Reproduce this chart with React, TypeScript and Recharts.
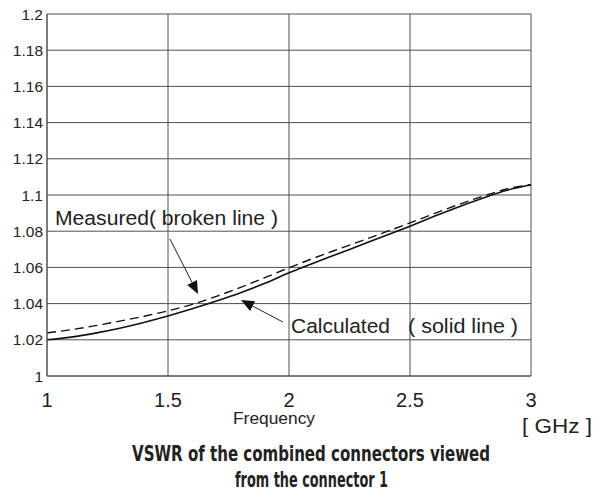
import React from 'react';
import { LineChart, Line, XAxis, YAxis, CartesianGrid, ReferenceLine } from 'recharts';

const freq = [1, 1.1, 1.2, 1.3, 1.4, 1.5, 1.6, 1.7, 1.8, 1.9, 2.0, 2.1, 2.2, 2.3, 2.4, 2.5, 2.6, 2.7, 2.8, 2.9, 3.0];
const calculated = [1.0200, 1.0215, 1.0237, 1.0264, 1.0296, 1.0332, 1.0371, 1.0414, 1.0460, 1.0512, 1.0570, 1.0623, 1.0674, 1.0725, 1.0776, 1.0828, 1.0882, 1.0934, 1.0982, 1.1026, 1.1055];
const measured = [1.0238, 1.0256, 1.0278, 1.0303, 1.0330, 1.0360, 1.0396, 1.0440, 1.0490, 1.0543, 1.0598, 1.0650, 1.0699, 1.0747, 1.0796, 1.0846, 1.0897, 1.0947, 1.0993, 1.1033, 1.1058];

const xTicks = [1, 1.5, 2, 2.5, 3];
const yTicks = [1, 1.02, 1.04, 1.06, 1.08, 1.1, 1.12, 1.14, 1.16, 1.18, 1.2];

const arrowMeasured = [{ x: 1.508, y: 1.0757 }, { x: 1.624, y: 1.0453 }];
const arrowCalculated = [{ x: 1.975, y: 1.0298 }, { x: 1.802, y: 1.042 }];

const data = freq.map((f, i) => ({ f, calculated: calculated[i], measured: measured[i] }));

const FONT = '"Liberation Sans", Arial, Helvetica, sans-serif';
const TEXT = '#222';

const XTick = (props: any) => {
  const { x, y, payload } = props;
  return (
    <text x={x} y={y + 31} textAnchor="middle" fontSize={20} fill={TEXT} fontFamily={FONT}>
      {String(payload.value)}
    </text>
  );
};

const YTick = (props: any) => {
  const { x, y, payload } = props;
  return (
    <text x={x - 4} y={y} dy="0.355em" textAnchor="end" fontSize={15.5} fill={TEXT} fontFamily={FONT}>
      {String(payload.value)}
    </text>
  );
};

const Arrow = (props: any) => {
  const { x1, y1, x2, y2 } = props;
  const dx = x2 - x1;
  const dy = y2 - y1;
  const len = Math.hypot(dx, dy) || 1;
  const ux = dx / len;
  const uy = dy / len;
  const hl = 13;
  const hw = 5.5;
  const bx = x2 - ux * hl;
  const by = y2 - uy * hl;
  const px = -uy;
  const py = ux;
  return (
    <g>
      <line x1={x1} y1={y1} x2={bx} y2={by} stroke="#222" strokeWidth={1} />
      <polygon
        points={`${x2},${y2} ${bx + px * hw},${by + py * hw} ${bx - px * hw},${by - py * hw}`}
        fill="#111"
      />
    </g>
  );
};

export default function App() {
  return (
    <div style={{ position: 'absolute', left: 0, top: 0, width: 605, height: 500, background: '#fff' }}>
      <LineChart
        width={605}
        height={500}
        data={data}
        margin={{ top: 14, right: 74, bottom: 94, left: 0 }}
      >
        <CartesianGrid stroke="#505050" strokeWidth={1} />
        <XAxis
          dataKey="f"
          type="number"
          domain={[1, 3]}
          ticks={xTicks}
          interval={0}
          height={30}
          axisLine={{ stroke: '#505050' }}
          tickLine={false}
          tickSize={0}
          tickMargin={0}
          tick={<XTick />}
          allowDataOverflow
        />
        <YAxis
          type="number"
          domain={[1, 1.2]}
          ticks={yTicks}
          interval={0}
          width={47}
          axisLine={{ stroke: '#505050' }}
          tickLine={false}
          tickSize={0}
          tickMargin={0}
          tick={<YTick />}
          allowDataOverflow
        />
        <Line
          type="monotone"
          dataKey="calculated"
          stroke="#111"
          strokeWidth={1.6}
          dot={false}
          activeDot={false}
          isAnimationActive={false}
        />
        <Line
          type="monotone"
          dataKey="measured"
          stroke="#111"
          strokeWidth={1.4}
          strokeDasharray="9 5"
          dot={false}
          activeDot={false}
          isAnimationActive={false}
        />
        <ReferenceLine segment={arrowMeasured} shape={Arrow} />
        <ReferenceLine segment={arrowCalculated} shape={Arrow} />
      </LineChart>
      <svg
        width={605}
        height={500}
        style={{ position: 'absolute', left: 0, top: 0, pointerEvents: 'none' }}
      >
        <text x={55} y={225} fontSize={20.5} fill={TEXT} fontFamily={FONT} textLength={223} lengthAdjust="spacingAndGlyphs">
          Measured( broken line )
        </text>
        <text x={291} y={333} fontSize={20.5} fill={TEXT} fontFamily={FONT} textLength={99} lengthAdjust="spacingAndGlyphs">
          Calculated
        </text>
        <text x={408} y={333} fontSize={20.5} fill={TEXT} fontFamily={FONT} textLength={110} lengthAdjust="spacingAndGlyphs">
          ( solid line )
        </text>
        <text x={233} y={424} fontSize={17} fill={TEXT} fontFamily={FONT} textLength={82} lengthAdjust="spacingAndGlyphs">
          Frequency
        </text>
        <text x={522} y={433} fontSize={20} fill={TEXT} fontFamily={FONT} textLength={70} lengthAdjust="spacingAndGlyphs">
          [ GHz ]
        </text>
        <text x={132} y={461} fontSize={21} fontWeight="bold" fill={TEXT} fontFamily={'"Liberation Sans Narrow", "DejaVu Sans Condensed", ' + FONT} textLength={358} lengthAdjust="spacingAndGlyphs">
          VSWR of the combined connectors viewed
        </text>
        <text x={235} y={487} fontSize={21} fontWeight="bold" fill={TEXT} fontFamily={'"Liberation Sans Narrow", "DejaVu Sans Condensed", ' + FONT} textLength={153} lengthAdjust="spacingAndGlyphs">
          from the connector  1
        </text>
      </svg>
    </div>
  );
}
